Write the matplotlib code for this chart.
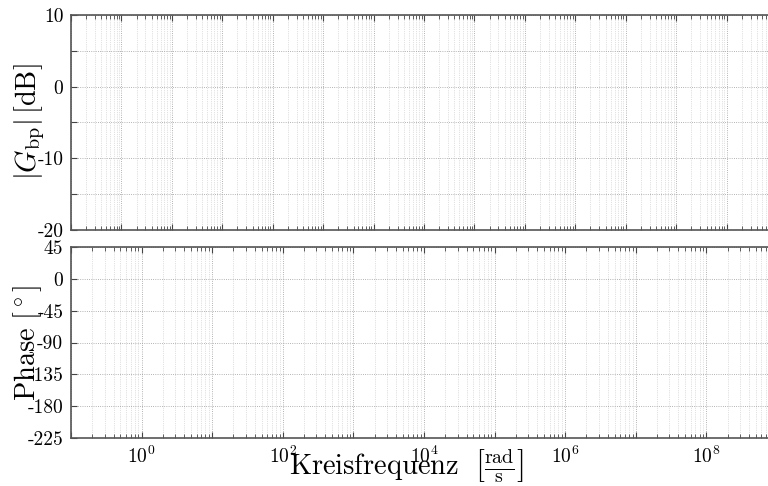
import numpy as np
import matplotlib
matplotlib.use('Agg')
import matplotlib.pyplot as plt
from matplotlib.ticker import LogLocator, FixedLocator, FuncFormatter, NullFormatter

# Achsenbereiche und Ticks
w_lim_mag = [1e-1, 1e13]
w_lim_phase = [1e-1, 1e9]
mag_lim = [-20, 10]
mag_ticks = [-20, -15, -10, -5, 0, 5, 10]
mag_labels = ['-20', '', '-10', '', '0', '', '10']
phase_lim = [-225, 45]
phase_ticks = [-225, -180, -135, -90, -45, 0, 45]
phase_labels = ['-225', '-180', '-135', '-90', '-45', '0', '45']

plt.rcParams['font.family'] = 'cmr10'
plt.rcParams['mathtext.fontset'] = 'cm'
plt.rcParams['axes.formatter.use_mathtext'] = True
plt.rcParams['axes.unicode_minus'] = False

fig = plt.figure(figsize=(7.68, 4.86), dpi=100)
ax1 = fig.add_axes([71/768, 1-230/486, 706/768, 215/486])
ax2 = fig.add_axes([71/768, 1-438/486, 706/768, 191/486])


def style(ax):
    ax.set_xscale('log')
    ax.xaxis.set_major_locator(LogLocator(base=10, numticks=100))
    ax.xaxis.set_minor_locator(LogLocator(base=10, subs=np.arange(2, 10), numticks=100))
    ax.xaxis.set_minor_formatter(NullFormatter())
    ax.tick_params(which='both', direction='in', top=True, right=True, colors='#444444',
                   labelcolor='black', labelsize=14)
    ax.tick_params(which='major', length=4.5, width=0.8)
    ax.tick_params(which='minor', length=3, width=0.6)
    ax.tick_params(axis='y', pad=5.5)
    ax.tick_params(axis='x', pad=5.5)
    ax.grid(which='major', ls=':', color='#9a9a9a', lw=0.6)
    ax.grid(which='minor', axis='x', ls=':', color='#c4c4c4', lw=0.5)
    for s in ax.spines.values():
        s.set_color('#555555')
        s.set_linewidth(1.2)


style(ax1)
ax1.set_xlim(w_lim_mag)
ax1.set_ylim(mag_lim)
ax1.yaxis.set_major_locator(FixedLocator(mag_ticks))
ax1.set_yticklabels(mag_labels)
ax1.xaxis.set_major_formatter(NullFormatter())

style(ax2)
ax2.set_xlim(w_lim_phase)
ax2.set_ylim(phase_lim)
ax2.yaxis.set_major_locator(FixedLocator(phase_ticks))
ax2.set_yticklabels(phase_labels)


def dec_label(v, pos):
    e = int(round(np.log10(v)))
    if e % 2 != 0 or v < w_lim_phase[0] or v > w_lim_phase[1]:
        return ''
    return r'$10^{%d}$' % e


ax2.xaxis.set_major_formatter(FuncFormatter(dec_label))

fig.text(30/768, 1-122/486, r'$|G_{\mathrm{bp}}|\,[\mathrm{dB}]$', rotation=90,
         ha='center', va='center', fontsize=20.5)
fig.text(28/768, 1-343/486, r'$\mathrm{Phase}\ [^\circ]$', rotation=90,
         ha='center', va='center', fontsize=20.5)
fig.text(406/768, 1-475/486,
         r'$\mathrm{Kreisfrequenz}\ \ \left[\frac{\mathrm{rad}}{\mathrm{s}}\right]$',
         ha='center', va='baseline', fontsize=20.5)

fig.savefig('out.png', dpi=100)
